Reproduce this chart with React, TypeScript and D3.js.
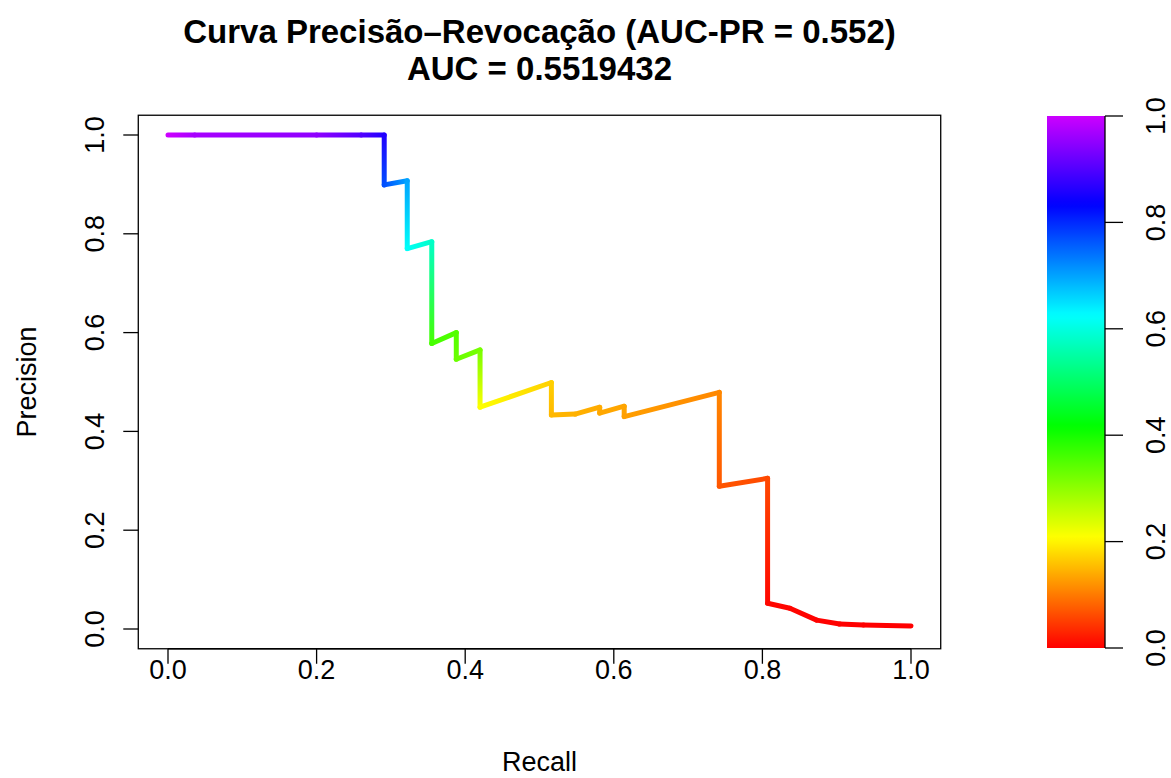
import React from "react";
import * as d3 from "d3";

const recall = [0, 0.036, 0.2, 0.26, 0.291, 0.291, 0.322, 0.322, 0.355, 0.355, 0.388, 0.388, 0.42, 0.42, 0.516, 0.516, 0.548, 0.581, 0.581, 0.614, 0.614, 0.742, 0.742, 0.807, 0.807, 0.837, 0.873, 0.904, 0.936, 0.967, 1.0];
const precision = [1, 1, 1, 1, 1, 0.899, 0.9075, 0.77, 0.784, 0.578, 0.6, 0.546, 0.565, 0.449, 0.499, 0.433, 0.435, 0.449, 0.437, 0.451, 0.43, 0.479, 0.289, 0.305, 0.052, 0.042, 0.018, 0.01, 0.008, 0.007, 0.006];
const threshold = [1.0, 0.97, 0.95, 0.9, 0.86, 0.77, 0.7, 0.62, 0.58, 0.36, 0.35, 0.33, 0.32, 0.21, 0.17, 0.15, 0.145, 0.14, 0.137, 0.135, 0.13, 0.11, 0.07, 0.06, 0.006, 0.004, 0.002, 0.001, 0.0, 0.0, 0.0];

const xTicks = [0, 0.2, 0.4, 0.6, 0.8, 1.0];
const yTicks = [0, 0.2, 0.4, 0.6, 0.8, 1.0];
const barTicks = [0, 0.2, 0.4, 0.6, 0.8, 1.0];

const titleLine1 = "Curva Precisão–Revocação (AUC-PR = 0.552)";
const titleLine2 = "AUC = 0.5519432";
const xLabel = "Recall";
const yLabel = "Precision";

const colorOf = (v: number) => d3.hsl(v * 288, 1, 0.5).formatHex();

export default function App() {
  const W = 1171, H = 778;
  const x = d3.scaleLinear().domain([0, 1]).range([168, 911]);
  const y = d3.scaleLinear().domain([0, 1]).range([629, 135]);
  const boxL = x(-0.04), boxR = x(1.04), boxT = y(1.04), boxB = y(-0.04);
  const cb = d3.scaleLinear().domain([0, 1]).range([648, 116]);
  const cbL = 1047, cbR = 1105;
  const font = "'Liberation Sans', Arial, sans-serif";
  const stops = d3.range(0, 101).map((i) => i / 100);
  const fs = 27;

  const segs = recall.slice(0, -1).map((r, i) => ({
    x1: x(r), y1: y(precision[i]), x2: x(recall[i + 1]), y2: y(precision[i + 1]),
    c1: colorOf(threshold[i]), c2: colorOf(threshold[i + 1]),
  }));

  return (
    <svg width={W} height={H} style={{ position: "absolute", left: 0, top: 0, background: "#fff" }} fontFamily={font}>
      <defs>
        {segs.map((s, i) => (
          <linearGradient key={i} id={`g${i}`} gradientUnits="userSpaceOnUse" x1={s.x1} y1={s.y1} x2={s.x2 + (s.x1 === s.x2 && s.y1 === s.y2 ? 1 : 0)} y2={s.y2}>
            <stop offset="0" stopColor={s.c1} />
            <stop offset="1" stopColor={s.c2} />
          </linearGradient>
        ))}
        <linearGradient id="cbar" x1="0" y1="1" x2="0" y2="0">
          {stops.map((v) => (
            <stop key={v} offset={v} stopColor={colorOf(v)} />
          ))}
        </linearGradient>
      </defs>
      <rect x={0} y={0} width={W} height={H} fill="#fff" />
      {/* title */}
      <text x={(boxL + boxR) / 2} y={43} textAnchor="middle" fontSize={33} fontWeight="bold">{titleLine1}</text>
      <text x={(boxL + boxR) / 2} y={80} textAnchor="middle" fontSize={33} fontWeight="bold">{titleLine2}</text>
      {/* curve */}
      {segs.map((s, i) => (
        <line key={i} x1={s.x1} y1={s.y1} x2={s.x2} y2={s.y2} stroke={`url(#g${i})`} strokeWidth={5} strokeLinecap="round" />
      ))}
      {/* box */}
      <rect x={boxL} y={boxT} width={boxR - boxL} height={boxB - boxT} fill="none" stroke="#000" strokeWidth={1.3} />
      {/* x axis */}
      <line x1={x(0)} x2={x(1)} y1={boxB} y2={boxB} stroke="#000" strokeWidth={1.3} />
      {xTicks.map((t) => (
        <g key={t}>
          <line x1={x(t)} x2={x(t)} y1={boxB} y2={boxB + 15} stroke="#000" strokeWidth={1.3} />
          <text x={x(t)} y={679} textAnchor="middle" fontSize={fs}>{t.toFixed(1)}</text>
        </g>
      ))}
      <text x={(boxL + boxR) / 2} y={771} textAnchor="middle" fontSize={fs}>{xLabel}</text>
      {/* y axis */}
      {yTicks.map((t) => (
        <g key={t}>
          <line x1={boxL} x2={boxL - 15} y1={y(t)} y2={y(t)} stroke="#000" strokeWidth={1.3} />
          <text transform={`translate(104,${y(t)}) rotate(-90)`} textAnchor="middle" fontSize={fs}>{t.toFixed(1)}</text>
        </g>
      ))}
      <text transform={`translate(36,${(boxT + boxB) / 2}) rotate(-90)`} textAnchor="middle" fontSize={fs}>{yLabel}</text>
      {/* colorbar */}
      <rect x={cbL} y={cb(1)} width={cbR - cbL} height={cb(0) - cb(1)} fill="url(#cbar)" />
      <line x1={cbR} x2={cbR} y1={cb(0)} y2={cb(1)} stroke="#000" strokeWidth={1.3} />
      {barTicks.map((t) => (
        <g key={t}>
          <line x1={cbR} x2={cbR + 18} y1={cb(t)} y2={cb(t)} stroke="#000" strokeWidth={1.3} />
          <text transform={`translate(1165,${cb(t)}) rotate(-90)`} textAnchor="middle" fontSize={fs}>{t.toFixed(1)}</text>
        </g>
      ))}
    </svg>
  );
}
